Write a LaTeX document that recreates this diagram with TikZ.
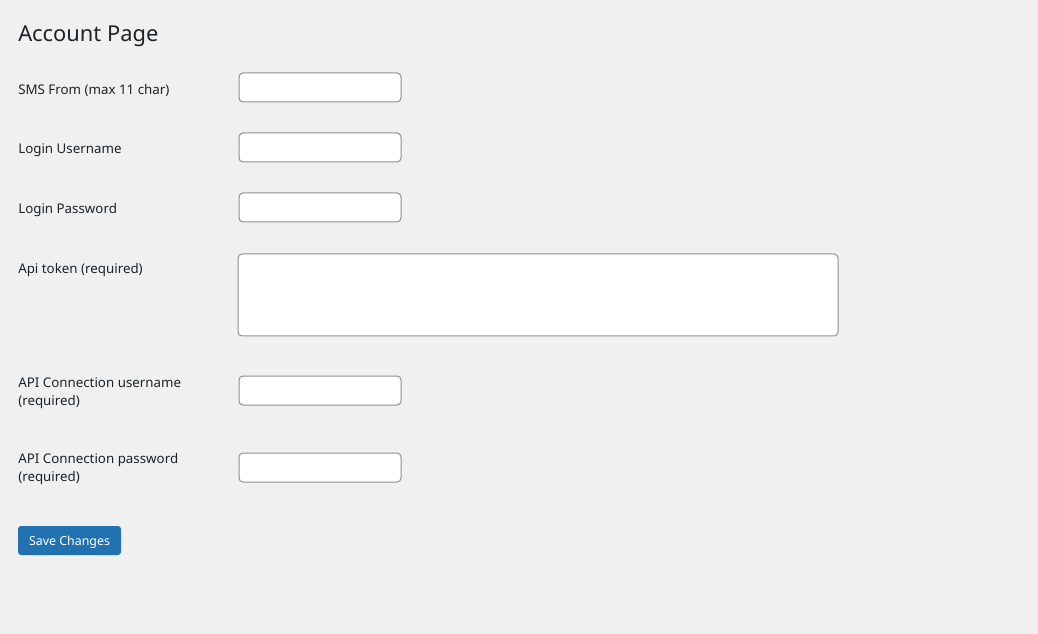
\documentclass[tikz,border=0pt]{standalone}
\usepackage{fontspec}
\setmainfont{Noto Sans}
\usetikzlibrary{positioning}
\definecolor{pagebg}{HTML}{F0F0F1}
\definecolor{fieldline}{HTML}{8C8F94}
\definecolor{wpblue}{HTML}{2271B1}
\definecolor{wptext}{HTML}{1D2327}
\tikzset{
  label/.style={anchor=west, inner sep=0pt, text=wptext, font=\fontsize{10}{13.5}\selectfont, align=left},
  field/.style={draw=fieldline, fill=white, rounded corners=3pt, line width=0.75pt},
  savebtn/.style={fill=wpblue, rounded corners=2.25pt}
}
\begin{document}
\begin{tikzpicture}[x=0.75pt,y=-0.75pt]
\fill [pagebg] (0,0) rectangle (1038,634);
\useasboundingbox (0,0) rectangle (1038,634);
\node [anchor=west, inner sep=0pt, text=wptext, font=\fontsize{16.4}{20}\selectfont] (title) at (18,36) {Account Page};

% SMS from
\node [label] (sms) at (18,90) {SMS From (max 11 char)};
\draw [field] (239,73) rectangle (401,102);
% login
\node [label] (user) at (18,150) {Login Username};
\draw [field] (239,133) rectangle (401,162);
\node [label] (pass) at (18,210) {Login Password};
\draw [field] (239,193) rectangle (401,222);
% api token
\node [label] (token) at (18,270) {Api token (required)};
\draw [field] (238,254) rectangle (838,336);
% api connection
\node [label] (apiuser) at (18,393.5) {API Connection username\\(required)};
\draw [field] (239,376) rectangle (401,405);
\node [label] (apipass) at (18,469.5) {API Connection password\\(required)};
\draw [field] (239,453) rectangle (401,482);

\fill [savebtn] (18,526) rectangle (121,555);
\node [text=white, inner sep=0pt, font=\fontsize{9.3}{12}\selectfont] (save) at (69.5,542) {Save Changes};
\end{tikzpicture}
\end{document}
